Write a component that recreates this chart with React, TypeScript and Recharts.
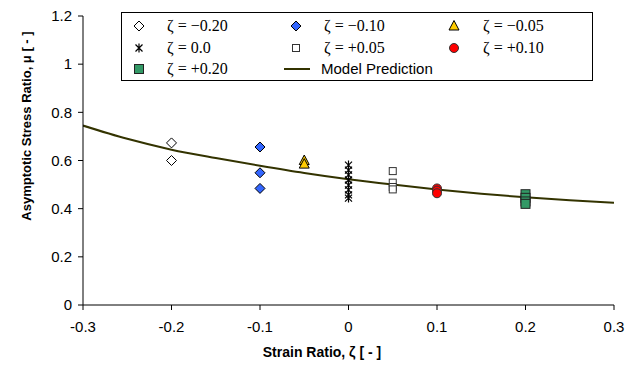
import React from "react";
import {
  ComposedChart,
  Scatter,
  Line,
  XAxis,
  YAxis,
} from "recharts";

// model curve
const modelZeta = [-0.3, -0.25, -0.2, -0.15, -0.1, -0.05, 0, 0.05, 0.1, 0.15, 0.2, 0.25, 0.3];
const modelMu = [0.745, 0.69, 0.645, 0.61, 0.578, 0.548, 0.522, 0.5, 0.48, 0.462, 0.447, 0.435, 0.425];

// measured points, one list per strain ratio
const muM020 = [0.673, 0.6];
const muM010 = [0.656, 0.549, 0.484];
const muM005 = [0.6, 0.585];
const muZero = [0.581, 0.56, 0.54, 0.519, 0.498, 0.478, 0.457, 0.444];
const muP005 = [0.556, 0.508, 0.49, 0.48];
const muP010 = [0.484, 0.475, 0.464];
const muP020 = [0.46, 0.445, 0.43, 0.42];

const xTicks = [-0.3, -0.2, -0.1, 0, 0.1, 0.2, 0.3];
const yTicks = [0, 0.2, 0.4, 0.6, 0.8, 1, 1.2];

const toPts = (zeta: number, mus: number[]) => mus.map((mu) => ({ x: zeta, y: mu }));
const modelData = modelZeta.map((x, i) => ({ x, y: modelMu[i] }));

type P = { cx?: number; cy?: number };

const openDiamond = ({ cx = 0, cy = 0 }: P) => (
  <path d={`M${cx},${cy - 5}L${cx + 5},${cy}L${cx},${cy + 5}L${cx - 5},${cy}Z`} fill="#fff" stroke="#000" strokeWidth={1} />
);
const blueDiamond = ({ cx = 0, cy = 0 }: P) => (
  <path d={`M${cx},${cy - 5}L${cx + 5},${cy}L${cx},${cy + 5}L${cx - 5},${cy}Z`} fill="#3366FF" stroke="#000" strokeWidth={1} />
);
const triangle = ({ cx = 0, cy = 0 }: P) => (
  <path d={`M${cx},${cy - 5.5}L${cx + 5},${cy + 4}L${cx - 5},${cy + 4}Z`} fill="#FFCC00" stroke="#000" strokeWidth={1} />
);
const asterisk = ({ cx = 0, cy = 0 }: P) => (
  <path
    d={`M${cx - 3.5},${cy - 3.5}L${cx + 3.5},${cy + 3.5}M${cx - 3.5},${cy + 3.5}L${cx + 3.5},${cy - 3.5}M${cx},${cy - 4.5}L${cx},${cy + 4.5}`}
    stroke="#000"
    strokeWidth={1.2}
    fill="none"
  />
);
const openSquare = ({ cx = 0, cy = 0 }: P) => (
  <rect x={cx - 3.5} y={cy - 3.5} width={7} height={7} fill="#fff" stroke="#333" strokeWidth={1} />
);
const redCircle = ({ cx = 0, cy = 0 }: P) => (
  <circle cx={cx} cy={cy} r={4.5} fill="#FF0000" stroke="#333" strokeWidth={1} />
);
const greenSquare = ({ cx = 0, cy = 0 }: P) => (
  <rect x={cx - 4.5} y={cy - 4.5} width={9} height={9} fill="#339966" stroke="#222" strokeWidth={1} />
);

const legendItems = [
  { label: "ζ = −0.20", shape: openDiamond, col: 0, row: 0 },
  { label: "ζ = −0.10", shape: blueDiamond, col: 1, row: 0 },
  { label: "ζ = −0.05", shape: triangle, col: 2, row: 0 },
  { label: "ζ = 0.0", shape: asterisk, col: 0, row: 1 },
  { label: "ζ = +0.05", shape: openSquare, col: 1, row: 1 },
  { label: "ζ = +0.10", shape: redCircle, col: 2, row: 1 },
  { label: "ζ = +0.20", shape: greenSquare, col: 0, row: 2 },
];

const colMarker = [17, 174, 332];
const colText = [45, 202, 361];
const rowY = [13, 35, 56];

const LegendBox = () => (
  <div
    style={{
      position: "absolute",
      left: 121,
      top: 12,
      width: 470,
      height: 67,
      border: "1px solid #000",
      background: "#fff",
    }}
  >
    {legendItems.map((it, i) => (
      <React.Fragment key={i}>
        <svg
          width={14}
          height={14}
          style={{ position: "absolute", left: colMarker[it.col] - 7, top: rowY[it.row] - 7 }}
        >
          {it.shape({ cx: 7, cy: 7 })}
        </svg>
        <div
          style={{
            position: "absolute",
            left: colText[it.col],
            top: rowY[it.row] - 10,
            fontFamily: "'Liberation Serif', 'Times New Roman', serif",
            fontSize: 16,
            lineHeight: "20px",
            whiteSpace: "nowrap",
          }}
        >
          {it.label}
        </div>
      </React.Fragment>
    ))}
    <svg width={28} height={6} style={{ position: "absolute", left: 161, top: rowY[2] - 3 }}>
      <line x1={1} y1={3} x2={27} y2={3} stroke="#333300" strokeWidth={2} />
    </svg>
    <div
      style={{
        position: "absolute",
        left: 199,
        top: rowY[2] - 10,
        fontFamily: "Arial, 'Liberation Sans', sans-serif",
        fontSize: 15,
        lineHeight: "20px",
        whiteSpace: "nowrap",
      }}
    >
      Model Prediction
    </div>
  </div>
);

const fmt = (v: number) => String(Math.round(v * 10) / 10);
const tickStyle = { fill: "#000", fontSize: 15, fontFamily: "Arial, 'Liberation Sans', sans-serif" };

const App = () => (
  <div style={{ position: "absolute", left: 0, top: 0, width: 635, height: 368, background: "#fff" }}>
    <ComposedChart width={635} height={368} margin={{ top: 16, right: 21, bottom: 0, left: 0 }}>
      <XAxis
        type="number"
        dataKey="x"
        domain={[-0.3, 0.3]}
        ticks={xTicks}
        tickFormatter={fmt}
        height={63}
        tick={tickStyle}
        tickSize={5}
        tickMargin={11}
        axisLine={{ stroke: "#000" }}
        tickLine={{ stroke: "#000" }}
        allowDataOverflow
        label={{
          content: () => (
            <text
              x={322}
              y={357}
              textAnchor="middle"
              fontFamily="Arial, 'Liberation Sans', sans-serif"
              fontWeight="bold"
              fontSize={14}
              fill="#000"
            >
              Strain Ratio, ζ [ - ]
            </text>
          ),
        }}
      />
      <YAxis
        type="number"
        dataKey="y"
        domain={[0, 1.2]}
        ticks={yTicks}
        tickFormatter={fmt}
        width={83}
        tick={tickStyle}
        tickSize={5}
        tickMargin={6}
        axisLine={{ stroke: "#000" }}
        tickLine={{ stroke: "#000" }}
        allowDataOverflow
        label={{
          content: () => (
            <text
              x={31}
              y={126}
              transform="rotate(-90 31 126)"
              textAnchor="middle"
              fontFamily="Arial, 'Liberation Sans', sans-serif"
              fontWeight="bold"
              fontSize={13}
              fill="#000"
            >
              Asymptotic Stress Ratio, μ [ - ]
            </text>
          ),
        }}
      />
      <Line
        data={modelData}
        dataKey="y"
        type="monotone"
        stroke="#333300"
        strokeWidth={2}
        dot={false}
        activeDot={false}
        isAnimationActive={false}
      />
      <Scatter data={toPts(-0.2, muM020)} shape={openDiamond} isAnimationActive={false} />
      <Scatter data={toPts(-0.1, muM010)} shape={blueDiamond} isAnimationActive={false} />
      <Scatter data={toPts(-0.05, muM005)} shape={triangle} isAnimationActive={false} />
      <Scatter data={toPts(0, muZero)} shape={asterisk} isAnimationActive={false} />
      <Scatter data={toPts(0.05, muP005)} shape={openSquare} isAnimationActive={false} />
      <Scatter data={toPts(0.1, muP010)} shape={redCircle} isAnimationActive={false} />
      <Scatter data={toPts(0.2, muP020)} shape={greenSquare} isAnimationActive={false} />
    </ComposedChart>
    <LegendBox />
  </div>
);

export default App;
